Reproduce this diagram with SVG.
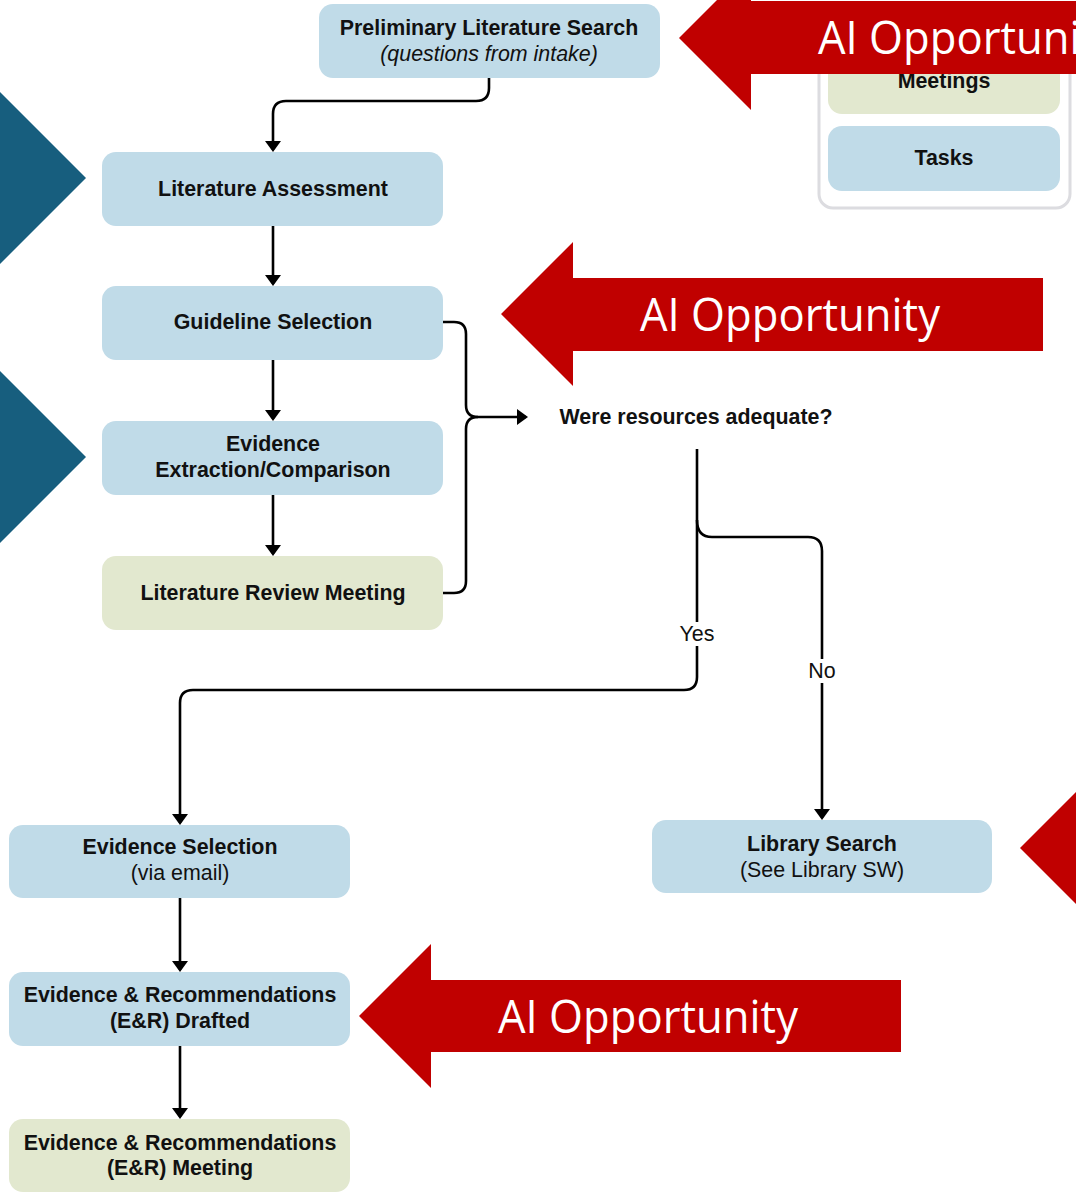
<svg xmlns="http://www.w3.org/2000/svg" width="1076" height="1196" viewBox="0 0 1076 1196">
<style>
.b{fill:#c0dbe8}
.g{fill:#e2e8cf}
.t{font-family:"Liberation Sans",Arial,sans-serif;font-size:21.4px;fill:#111;text-anchor:middle}
.bd{font-weight:bold}
.it{font-style:italic}
.c{fill:none;stroke:#000;stroke-width:2.6}
.red{fill:#c00000}
.teal{fill:#175e7e}
.ai{font-family:"Open Sans","Noto Sans",sans-serif;font-size:46px;fill:#fff}
</style>
<defs>
<marker id="ah" viewBox="0 0 11 16" refX="9" refY="8" markerWidth="11" markerHeight="16" markerUnits="userSpaceOnUse" orient="auto">
<path d="M0,0 L11,8 L0,16 Z" fill="#000"/>
</marker>
</defs>
<rect width="1076" height="1196" fill="#fff"/>

<g id="teal-arrows">
<polygon class="teal" points="0,92 86,178 0,264"/>
<polygon class="teal" points="0,371 86,457 0,543"/>
</g>

<g id="legend">
<rect x="819" y="20" width="251" height="188" rx="14" fill="#fff" stroke="#dcdce0" stroke-width="3"/>
<g id="legend-meetings">
<rect class="g" x="828" y="49" width="232" height="65" rx="14"/>
<text class="t bd" x="944" y="88">Meetings</text>
</g>
<g id="legend-tasks">
<rect class="b" x="828" y="126" width="232" height="65" rx="14"/>
<text class="t bd" x="944" y="165">Tasks</text>
</g>
</g>

<g id="connectors">
<path class="c" d="M489,78 V88 Q489,101 476,101 H286 Q273,101 273,114 V150" marker-end="url(#ah)"/>
<path class="c" d="M273,226 V284" marker-end="url(#ah)"/>
<path class="c" d="M273,360 V419" marker-end="url(#ah)"/>
<path class="c" d="M273,495 V554" marker-end="url(#ah)"/>
<path class="c" d="M443,322 H454 Q466,322 466,334 V405 Q466,417 478,417 H526" marker-end="url(#ah)"/>
<path class="c" d="M443,593 H454 Q466,593 466,581 V429 Q466,417 478,417"/>
<path class="c" d="M697,449 V677 Q697,690 684,690 H193 Q180,690 180,703 V823" marker-end="url(#ah)"/>
<path class="c" d="M697,520 Q697,537 712,537 H808 Q822,537 822,551 V818" marker-end="url(#ah)"/>
<path class="c" d="M180,898 V970" marker-end="url(#ah)"/>
<path class="c" d="M180,1046 V1117" marker-end="url(#ah)"/>
<rect x="677" y="622" width="40" height="24" fill="#fff"/>
<text class="t" x="697" y="641">Yes</text>
<rect x="806" y="659" width="32" height="24" fill="#fff"/>
<text class="t" x="822" y="678">No</text>
</g>

<g id="n-prelim">
<rect class="b" x="319" y="4" width="341" height="74" rx="14"/>
<text class="t bd" x="489" y="35">Preliminary Literature Search</text>
<text class="t it" x="489" y="61">(questions from intake)</text>
</g>
<g id="n-litassess">
<rect class="b" x="102" y="152" width="341" height="74" rx="14"/>
<text class="t bd" x="273" y="196">Literature Assessment</text>
</g>
<g id="n-guideline">
<rect class="b" x="102" y="286" width="341" height="74" rx="14"/>
<text class="t bd" x="273" y="329">Guideline Selection</text>
</g>
<g id="n-extraction">
<rect class="b" x="102" y="421" width="341" height="74" rx="14"/>
<text class="t bd" x="273" y="451">Evidence</text>
<text class="t bd" x="273" y="477">Extraction/Comparison</text>
</g>
<g id="n-litreview">
<rect class="g" x="102" y="556" width="341" height="74" rx="14"/>
<text class="t bd" x="273" y="600">Literature Review Meeting</text>
</g>
<g id="n-decision">
<text class="t bd" x="696" y="424">Were resources adequate?</text>
</g>
<g id="n-evsel">
<rect class="b" x="9" y="825" width="341" height="73" rx="14"/>
<text class="t bd" x="180" y="854">Evidence Selection</text>
<text class="t" x="180" y="880">(via email)</text>
</g>
<g id="n-erdraft">
<rect class="b" x="9" y="972" width="341" height="74" rx="14"/>
<text class="t bd" x="180" y="1002">Evidence &amp; Recommendations</text>
<text class="t bd" x="180" y="1028">(E&amp;R) Drafted</text>
</g>
<g id="n-ermeet">
<rect class="g" x="9" y="1119" width="341" height="73" rx="14"/>
<text class="t bd" x="180" y="1150">Evidence &amp; Recommendations</text>
<text class="t bd" x="180" y="1175">(E&amp;R) Meeting</text>
</g>
<g id="n-library">
<rect class="b" x="652" y="820" width="340" height="73" rx="14"/>
<text class="t bd" x="822" y="851">Library Search</text>
<text class="t" x="822" y="877">(See Library SW)</text>
</g>

<g id="ai-top">
<polygon class="red" points="679,38 751,-34 751,1 1076,1 1076,74 751,74 751,110"/>
<text class="ai" x="818" y="54" textLength="300" lengthAdjust="spacingAndGlyphs">AI Opportunity</text>
</g>
<g id="ai-mid">
<polygon class="red" points="501,314 573,242 573,278 1043,278 1043,351 573,351 573,386"/>
<text class="ai" x="640" y="331" textLength="300" lengthAdjust="spacingAndGlyphs">AI Opportunity</text>
</g>
<g id="ai-bottom">
<polygon class="red" points="359,1016 431,944 431,980 901,980 901,1052 431,1052 431,1088"/>
<text class="ai" x="498" y="1033" textLength="300" lengthAdjust="spacingAndGlyphs">AI Opportunity</text>
</g>
<g id="ai-right">
<polygon class="red" points="1020,848 1076,792 1076,904"/>
</g>
</svg>
